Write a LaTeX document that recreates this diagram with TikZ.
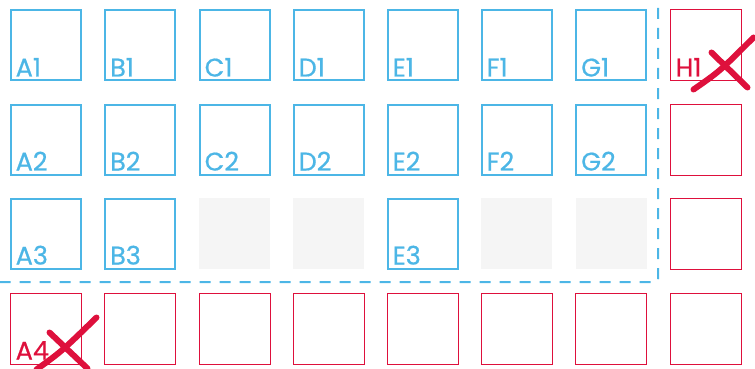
\documentclass[tikz,border=0pt]{standalone}
\usepackage{fontspec}
\setmainfont{Poppins}
\newfontfamily\slotfont[FakeBold=0.6]{Poppins}
\usetikzlibrary{shadows}
\definecolor{slotblue}{RGB}{76,182,230}
\definecolor{slotred}{RGB}{222,16,60}
\definecolor{slotgrey}{RGB}{245,245,245}

\begin{document}
\begin{tikzpicture}[x=1pt,y=-1pt,
	every node/.style={inner sep=0pt},
	used/.style={rectangle,draw=slotblue,line width=2pt,fill=white,minimum size=70pt,
		drop shadow={opacity=0.18,shadow xshift=1pt,shadow yshift=-1pt}},
	free/.style={rectangle,fill=slotgrey,minimum size=71pt},
	lost/.style={rectangle,draw=slotred,line width=1pt,minimum size=71pt},
	tag/.style={anchor=base west,font=\slotfont\fontsize{25.5}{26}\selectfont,text=slotblue},
	losttag/.style={tag,text=slotred},
	cross/.style={draw=slotred,line width=6pt,line cap=round}
	]
	\useasboundingbox (0,0) rectangle (755,369);
	% row 1
	\node[used](A1) at (45.5,45.5){}; \node[used](B1) at (140,45.5){};
	\node[used](C1) at (234.5,45.5){}; \node[used](D1) at (328.5,45.5){};
	\node[used](E1) at (422.5,45.5){}; \node[used](F1) at (516.5,45.5){};
	\node[used](G1) at (611,45.5){}; \node[lost](H1) at (705.5,45.5){};
	% row 2
	\node[used](A2) at (45.5,139.5){}; \node[used](B2) at (140,139.5){};
	\node[used](C2) at (234.5,139.5){}; \node[used](D2) at (328.5,139.5){};
	\node[used](E2) at (422.5,139.5){}; \node[used](F2) at (516.5,139.5){};
	\node[used](G2) at (611,139.5){}; \node[lost](H2) at (705.5,139.5){};
	% row 3
	\node[used](A3) at (45.5,233.5){}; \node[used](B3) at (140,233.5){};
	\node[free](C3) at (234.5,233.5){}; \node[free](D3) at (328.5,233.5){};
	\node[used](E3) at (422.5,233.5){}; \node[free](F3) at (516.5,233.5){};
	\node[free](G3) at (611,233.5){}; \node[lost](H3) at (705.5,233.5){};
	% row 4
	\node[lost](A4) at (45.5,328.5){}; \node[lost](B4) at (140,328.5){};
	\node[lost](C4) at (234.5,328.5){}; \node[lost](D4) at (328.5,328.5){};
	\node[lost](E4) at (422.5,328.5){}; \node[lost](F4) at (516.5,328.5){};
	\node[lost](G4) at (611,328.5){}; \node[lost](H4) at (705.5,328.5){};

	% names
	\foreach \n in {A1,B1,C1,D1,E1,F1,G1,A2,B2,C2,D2,E2,F2,G2,A3,B3,E3}
		\node[tag](\n t) at ([xshift=6pt,yshift=5pt]\n.south west){\n};
	\node[losttag](H1t) at ([xshift=6pt,yshift=5pt]H1.south west){H1};
	\node[losttag](A4t) at ([xshift=6pt,yshift=5pt]A4.south west){A4};

	% border of the set
	\coordinate (top) at (658,8);
	\coordinate (bend) at (658,282);
	\coordinate (left) at (0,282);
	\draw[slotblue,line width=2pt,dash pattern=on 11pt off 9pt,rounded corners=3pt]
		(top) -- (bend) -- (left);

	% crossed out
	\draw[cross] ([shift={(24,80)}]H1.north west) .. controls ([shift={(50,62)}]H1.north west) .. ([shift={(84,28)}]H1.north west);
	\draw[cross] ([shift={(42,43)}]H1.north west) -- ([shift={(78,78)}]H1.north west);
	\draw[cross] ([shift={(27,77)}]A4.north west) .. controls ([shift={(52,59)}]A4.north west) .. ([shift={(87,25)}]A4.north west);
	\draw[cross] ([shift={(40,40)}]A4.north west) -- ([shift={(78,76)}]A4.north west);
\end{tikzpicture}
\end{document}
